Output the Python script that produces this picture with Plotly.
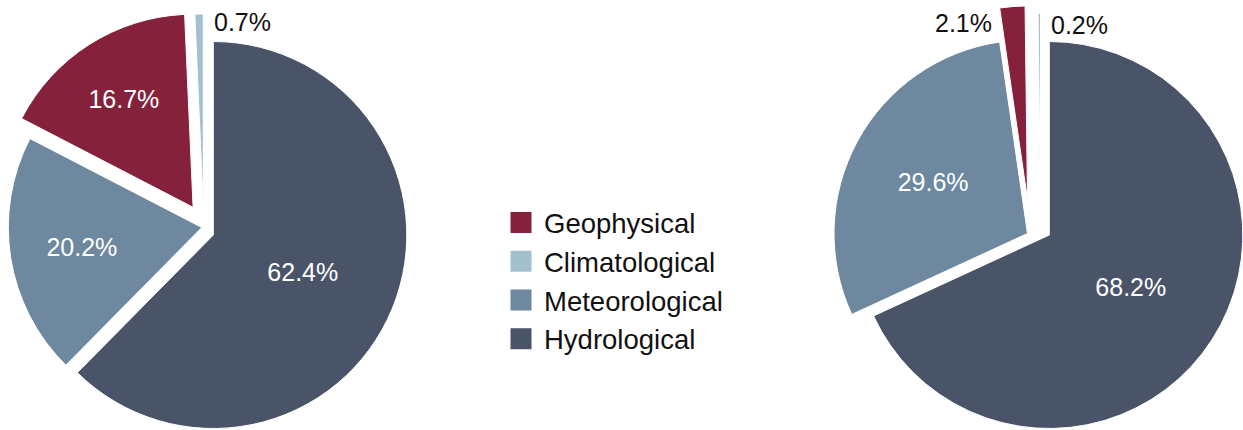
import math
import plotly.graph_objects as go

# ---------------- data ----------------
categories = ["Hydrological", "Meteorological", "Geophysical", "Climatological"]
left_values = [62.4, 20.2, 16.7, 0.7]
right_values = [68.2, 29.6, 2.1, 0.2]
legend_order = ["Geophysical", "Climatological", "Meteorological", "Hydrological"]

# ---------------- styles ----------------
COLORS = {
    "Hydrological": "#4a5469",
    "Meteorological": "#6d889f",
    "Geophysical": "#85213b",
    "Climatological": "#a2c0cd",
}
TRANSPARENT = "rgba(0,0,0,0)"
FONT = "Liberation Sans, Arial, Helvetica, sans-serif"
W, H = 1243, 430
R = 193.5  # pie radius in px

# pie placement (apex of hydrological slice) and explosion offsets per slice, px
PIES = [
    {
        "values": left_values,
        "apex": (213.3, 235.0),
        "offsets": {
            "Hydrological": (0.0, 0.0),
            "Meteorological": (-11.5, -7.5),
            "Geophysical": (-20.6, -27.7),
            "Climatological": (-10.0, -27.5),
        },
        # slice -> (side of slice, xshift, yshift) for labels placed outside
        "outside": {"Climatological": ("end", 8.7, -8)},
    },
    {
        "values": right_values,
        "apex": (1049.3, 235.0),
        "offsets": {
            "Hydrological": (0.0, 0.0),
            "Meteorological": (-21.8, -1.5),
            "Geophysical": (-21.8, -35.5),
            "Climatological": (-8.8, -28.0),
        },
        "outside": {
            "Geophysical": ("start", -5.8, -14.7),
            "Climatological": ("end", 8.5, -12),
        },
    },
]


def clip01(v):
    return max(0.0, min(1.0, round(v, 6)))


fig = go.Figure()
annotations = []

for pie in PIES:
    values = pie["values"]
    total = sum(values)
    ax, ay = pie["apex"]
    cum = 0.0
    for idx, name in enumerate(categories):
        dx, dy = pie["offsets"][name]
        cx, cy = ax + dx, ay + dy
        inside = name not in pie["outside"]
        fig.add_trace(
            go.Pie(
                labels=categories,
                values=values,
                sort=False,
                direction="clockwise",
                rotation=0,
                marker=dict(
                    colors=[COLORS[c] if c == name else TRANSPARENT for c in categories],
                    line=dict(color="white",
                              width=[1 if c == name else 0 for c in categories]),
                ),
                texttemplate=["%{value:.1f}%" if (c == name and inside) else "" for c in categories],
                textposition=["inside" if (c == name and inside) else "none" for c in categories],
                insidetextorientation="horizontal",
                insidetextfont=dict(color="white", size=25, family=FONT),
                hovertemplate="%{label}: %{value:.1f}%<extra></extra>",
                domain=dict(
                    x=[clip01((cx - R) / W), clip01((cx + R) / W)],
                    y=[clip01(1 - (cy + R) / H), clip01(1 - (cy - R) / H)],
                ),
                showlegend=False,
            )
        )
        v = values[idx]
        start = cum / total * 2 * math.pi
        end = (cum + v) / total * 2 * math.pi
        cum += v
        if not inside:
            side, xs, ys = pie["outside"][name]
            ang = end if side == "end" else start
            px = cx + R * math.sin(ang)
            py = cy - R * math.cos(ang)
            annotations.append(
                dict(
                    x=px / W, y=1 - py / H, xref="paper", yref="paper",
                    text=f"{v:.1f}%", showarrow=False,
                    xanchor="left" if side == "end" else "right",
                    yanchor="middle", xshift=xs, yshift=ys,
                    font=dict(color="#111111", size=25, family=FONT),
                )
            )

# legend entries
for name in legend_order:
    fig.add_trace(
        go.Scatter(
            x=[None], y=[None], mode="markers", name=name,
            marker=dict(symbol="square", size=16, color=COLORS[name],
                        line=dict(color=COLORS[name], width=5)),
            hoverinfo="skip",
        )
    )

fig.update_layout(
    width=W, height=H,
    margin=dict(l=0, r=0, t=0, b=0),
    paper_bgcolor="white", plot_bgcolor="white",
    xaxis=dict(visible=False), yaxis=dict(visible=False),
    font=dict(family=FONT, color="#111111"),
    annotations=annotations,
    legend=dict(
        x=498 / W, y=1 - 280.5 / H, xanchor="left", yanchor="middle",
        font=dict(size=27.5, family=FONT, color="#111111"),
        bgcolor="rgba(0,0,0,0)", traceorder="normal",
        itemwidth=36,
        itemclick=False, itemdoubleclick=False,
    ),
)

fig.write_html(
    "out.html",
    config={"displayModeBar": False},
    post_script="document.body.style.margin='0';document.body.style.overflow='hidden';",
)
